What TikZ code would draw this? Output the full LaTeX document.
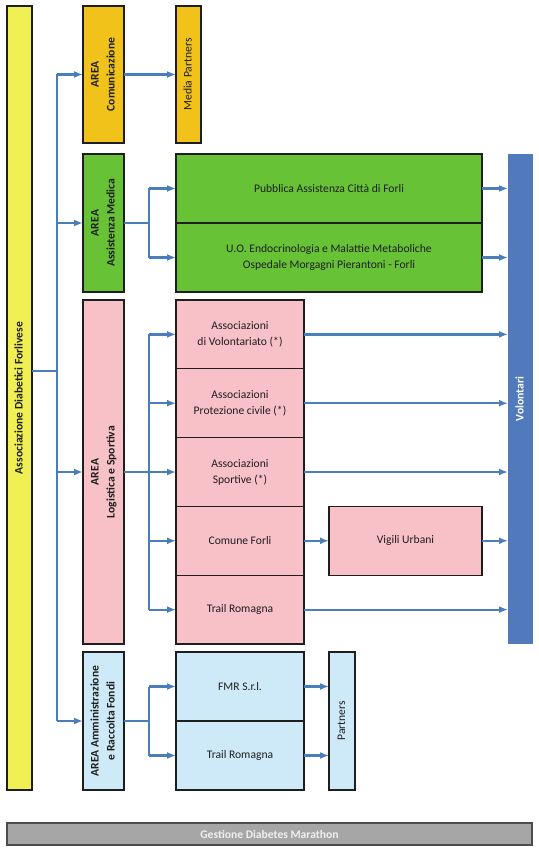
\documentclass[tikz,border=0pt]{standalone}
\usepackage{fontspec}
\setmainfont{Carlito}
\usepackage{tikz}
\usetikzlibrary{
    arrows.meta,
    calc,
    positioning
}
\definecolor{ink}{RGB}{30,30,30}
\definecolor{flowline}{RGB}{74,126,187}
\definecolor{assoc}{RGB}{240,240,84}
\definecolor{comm}{RGB}{240,194,26}
\definecolor{medic}{RGB}{104,194,54}
\definecolor{logist}{RGB}{248,192,199}
\definecolor{admin}{RGB}{206,234,248}
\definecolor{volunt}{RGB}{80,122,188}
\definecolor{mgmt}{RGB}{166,166,166}
\newcommand{\vtext}[1]{\rotatebox{90}{\begin{tabular}{@{}c@{}}#1\end{tabular}}}
\newcommand{\boxfont}{\fontsize{11.6}{16}\selectfont}
\tikzset{
    line join=miter,
    box/.style={
        rectangle,
        draw=ink,
        line width=1.3pt,
        inner sep=0pt,
        outer sep=0pt,
        align=center,
        text=ink,
        font=\boxfont
    },
    areabox/.style={
        box,
        minimum width=41pt,
        font=\boxfont\bfseries
    },
    bar/.style={
        box,
        minimum width=25pt
    },
    flow/.style={
        -{Latex[length=9pt,width=7pt]},
        draw=flowline,
        line width=2.2pt
    },
    link/.style={
        draw=flowline,
        line width=2.2pt
    }
}

\begin{document}
\begin{tikzpicture}[x=1pt, y=-1pt]
\useasboundingbox (0,0) rectangle (538,850);

% Left column
\node[bar, fill=assoc, minimum height=784pt, font=\boxfont\bfseries] (adf) at (19.5,398) {\vtext{Associazione Diabetici Forlivese}};

% Areas
\node[areabox, fill=comm, minimum height=137pt] (com) at (103.5,74.5) {\vtext{AREA\\Comunicazione}};
\node[areabox, fill=medic, minimum height=138pt] (med) at (103.5,223) {\vtext{AREA\\Assistenza Medica}};
\node[areabox, fill=logist, minimum height=344pt] (log) at (103.5,472) {\vtext{AREA\\Logistica e Sportiva}};
\node[areabox, fill=admin, minimum height=138pt] (amm) at (103.5,721) {\vtext{AREA Amministrazione\\e Raccolta Fondi}};

% Comunicazione
\node[bar, fill=comm, minimum height=137pt] (media) at (188.5,74.5) {\vtext{Media Partners}};

% Assistenza Medica
\node[box, fill=medic, minimum width=306pt, minimum height=69pt] (pub) at (329,188.5) {Pubblica Assistenza Città di Forli};
\node[box, fill=medic, minimum width=306pt, minimum height=69pt] (uo) at (329,257.5) {U.O. Endocrinologia e Malattie Metaboliche\\Ospedale Morgagni Pierantoni - Forli};

% Logistica e Sportiva
\node[box, fill=logist, minimum width=128pt, minimum height=68.8pt] (volo) at (240,334.4) {Associazioni\\di Volontariato (*)};
\node[box, fill=logist, minimum width=128pt, minimum height=68.8pt] (prot) at (240,403.2) {Associazioni\\Protezione civile (*)};
\node[box, fill=logist, minimum width=128pt, minimum height=68.8pt] (sport) at (240,472) {Associazioni\\Sportive (*)};
\node[box, fill=logist, minimum width=128pt, minimum height=68.8pt] (comune) at (240,540.8) {Comune Forli};
\node[box, fill=logist, minimum width=128pt, minimum height=68.8pt] (trail) at (240,609.6) {Trail Romagna};
\node[box, fill=logist, minimum width=153pt, minimum height=68.8pt] (vigili) at (405.5,540.8) {Vigili Urbani};

% Amministrazione
\node[box, fill=admin, minimum width=128pt, minimum height=69pt] (fmr) at (240,686.5) {FMR S.r.l.};
\node[box, fill=admin, minimum width=128pt, minimum height=69pt] (trail2) at (240,755.5) {Trail Romagna};
\node[bar, fill=admin, minimum width=26pt, minimum height=138pt] (partners) at (342,721) {\vtext{Partners}};

% Right column and footer
\node[bar, draw=none, fill=volunt, minimum height=490pt, text=white, font=\boxfont\bfseries] (vol) at (520.5,399) {\vtext{Volontari}};
\node[box, draw=black!70, fill=mgmt, minimum width=525pt, minimum height=22pt, text=black!6, font=\boxfont\bfseries] (gest) at (269.5,834) {Gestione Diabetes Marathon};

% Trunk
\coordinate (hub) at (57,371);
\draw[link] (adf.east |- hub) -- (hub);
\draw[link] (hub |- com.west) -- (hub |- amm.west);
\draw[flow] (hub |- com.west) -- (com.west);
\draw[flow] (hub |- med.west) -- (med.west);
\draw[flow] (hub |- log.west) -- (log.west);
\draw[flow] (hub |- amm.west) -- (amm.west);

% Forks
\coordinate (fork) at (149,0);
\draw[flow] (com.east) -- (media.west);

\draw[link] (med.east) -- (fork |- med.east);
\draw[link] (fork |- pub) -- (fork |- uo);
\draw[flow] (fork |- pub) -- (pub.west);
\draw[flow] (fork |- uo) -- (uo.west);

\draw[link] (log.east) -- (fork |- log.east);
\draw[link] (fork |- volo) -- (fork |- trail);
\foreach \n in {volo, prot, sport, comune, trail}
    \draw[flow] (fork |- \n) -- (\n.west);

\draw[link] (amm.east) -- (fork |- amm.east);
\draw[link] (fork |- fmr) -- (fork |- trail2);
\draw[flow] (fork |- fmr) -- (fmr.west);
\draw[flow] (fork |- trail2) -- (trail2.west);
\draw[flow] (fmr.east) -- (fmr.east -| partners.west);
\draw[flow] (trail2.east) -- (trail2.east -| partners.west);

% To Volontari
\draw[flow] (comune.east) -- (vigili.west);
\foreach \n in {pub, uo, volo, prot, sport, vigili, trail}
    \draw[flow] (\n.east) -- (\n.east -| vol.west);
\end{tikzpicture}
\end{document}
